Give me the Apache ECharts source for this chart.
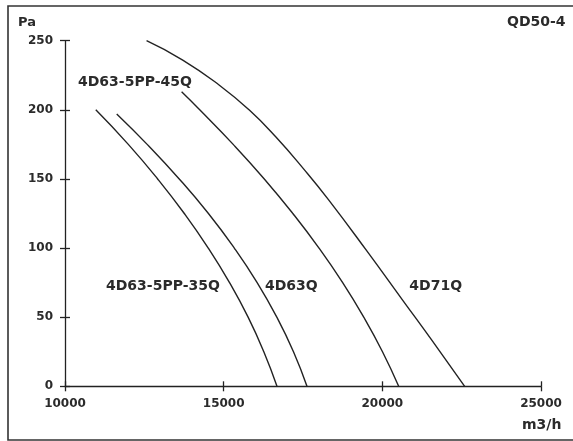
<!DOCTYPE html>
<html>
<head>
<meta charset="utf-8">
<script src="https://cdn.jsdelivr.net/npm/echarts@6/dist/echarts.min.js"></script>
<style>
  html, body { margin: 0; padding: 0; background: #fff; }
  #main { width: 573px; height: 441px; }
</style>
</head>
<body>
<div id="main"></div>
<script>
// axis ticks
var xTicks = [10000, 15000, 20000, 25000];
var yTicks = [0, 50, 100, 150, 200, 250];

// fan curves, [m3/h, Pa]
var curve35Q = [[10970, 200], [11995, 175], [12920, 150], [13760, 125], [14515, 100], [15185, 75], [15770, 50], [16265, 25], [16680, 0]];
var curve63Q = [[11630, 197], [12590, 175], [13600, 150], [14520, 125], [15335, 100], [16055, 75], [16675, 50], [17200, 25], [17625, 0]];
var curve45Q = [[13675, 213], [14245, 200], [15300, 175], [16280, 150], [17180, 125], [18005, 100], [18750, 75], [19415, 50], [20005, 25], [20515, 0]];
var curve71Q = [[12570, 250], [13710, 236], [14855, 218], [15800, 200], [16640, 180.5], [17565, 156], [18320, 134.5], [19500, 98.3], [20650, 62], [21570, 33], [22595, 0]];

// curve names and where they sit (data units)
var curveNames = ["4D63-5PP-35Q", "4D63Q", "4D63-5PP-45Q", "4D71Q"];
var labelSpots = [[13086, 72.6], [17132, 72], [12204, 220.2], [21681, 72.6]];

var textCol = "#2b2b2b";
var lineCol = "#222";
var font = "DejaVu Sans";

function curve(name, data) {
  return {
    name: name,
    type: "line",
    data: data,
    smooth: 0.5,
    showSymbol: false,
    symbol: "none",
    lineStyle: { color: lineCol, width: 1.4 },
    silent: true
  };
}

var chart = echarts.init(document.getElementById("main"));
var option = {
  backgroundColor: "#fff",
  animation: false,
  grid: { left: 65, right: 32, top: 40.7, bottom: 54.7 },
  xAxis: [
    {
      type: "value", min: 10000, max: 25000, interval: 5000,
      axisLine: { lineStyle: { color: lineCol, width: 1.3 } },
      axisTick: { length: 5, lineStyle: { color: lineCol, width: 1.3 } },
      axisLabel: { color: textCol, fontFamily: font, fontWeight: "bold", fontSize: 12, margin: 12,
        formatter: function (v) { return xTicks.indexOf(v) >= 0 ? String(v) : ""; } },
      splitLine: { show: false }
    },
    {
      type: "value", position: "bottom", min: 10000, max: 25000, interval: 5000,
      axisLine: { show: false },
      axisTick: { inside: true, length: 5, lineStyle: { color: lineCol, width: 1.3 } },
      axisLabel: { show: false },
      splitLine: { show: false }
    }
  ],
  yAxis: [
    {
      type: "value", min: 0, max: 250, interval: 50,
      axisLine: { show: true, lineStyle: { color: lineCol, width: 1.3 } },
      axisTick: { show: true, length: 5, lineStyle: { color: lineCol, width: 1.3 } },
      axisLabel: { color: textCol, fontFamily: font, fontWeight: "bold", fontSize: 12, margin: 12,
        formatter: function (v) { return yTicks.indexOf(v) >= 0 ? String(v) : ""; } },
      splitLine: { show: false }
    },
    {
      type: "value", position: "left", min: 0, max: 250, interval: 50,
      axisLine: { show: false },
      axisTick: { show: true, inside: true, length: 5, lineStyle: { color: lineCol, width: 1.3 } },
      axisLabel: { show: false },
      splitLine: { show: false }
    }
  ],
  series: [
    curve(curveNames[0], curve35Q),
    curve(curveNames[1], curve63Q),
    curve(curveNames[2], curve45Q),
    curve(curveNames[3], curve71Q),
    {
      type: "scatter",
      symbolSize: 0,
      silent: true,
      itemStyle: { opacity: 1 },
      emphasis: { disabled: true },
      data: labelSpots.map(function (p, i) { return { value: p, name: curveNames[i] }; }),
      label: {
        show: true, position: "inside", formatter: "{b}", opacity: 1,
        color: textCol, fontFamily: font, fontWeight: "bold", fontSize: 14
      }
    }
  ],
  graphic: [
    { type: "rect", shape: { x: 8, y: 6, width: 600, height: 434 },
      style: { fill: "none", stroke: "#333", lineWidth: 1.6 }, silent: true },
    { type: "text", left: 18, top: 16,
      style: { text: "Pa", fill: textCol, font: "bold 13px 'DejaVu Sans'" } },
    { type: "text", left: 507, top: 15,
      style: { text: "QD50-4", fill: textCol, font: "bold 14px 'DejaVu Sans'" } },
    { type: "text", left: 522, top: 418,
      style: { text: "m3/h", fill: textCol, font: "bold 14px 'DejaVu Sans'" } }
  ]
};
chart.setOption(option);
</script>
</body>
</html>
